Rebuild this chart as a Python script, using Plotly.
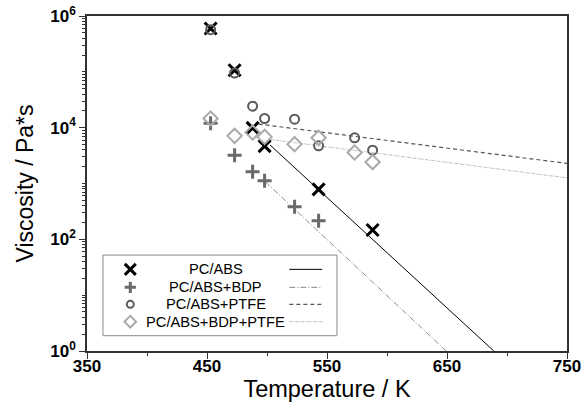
import plotly.graph_objects as go

# ---------------- data ----------------
T_pcabs = [453, 473, 488, 498, 543, 588]
V_pcabs = [5.96e5, 1.07e5, 9.9e3, 4.67e3, 783, 147]

T_bdp = [453, 473, 488, 498, 523, 543]
V_bdp = [1.2e4, 3.2e3, 1.62e3, 1.12e3, 383, 215]

T_ptfe = [453, 473, 488, 498, 523, 543, 573, 588]
V_ptfe = [5.7e5, 9.5e4, 2.43e4, 1.46e4, 1.42e4, 4.72e3, 6.58e3, 3.96e3]

T_bdpptfe = [453, 473, 488, 498, 523, 543, 573, 588]
V_bdpptfe = [1.46e4, 7.13e3, 8.2e3, 6.84e3, 5.07e3, 6.58e3, 3.6e3, 2.42e3]

# fitted lines (end points)
fitT_pcabs = [502.5, 689]
fitV_pcabs = [4.9e3, 1.0]
fitT_bdp = [498.6, 649.4]
fitV_bdp = [1.07e3, 1.0]
fitT_ptfe = [493, 750]
fitV_ptfe = [1.16e4, 2.29e3]
fitT_bdpptfe = [502.75, 750]
fitV_bdpptfe = [6.15e3, 1.26e3]

names = ["PC/ABS", "PC/ABS+BDP", "PC/ABS+PTFE", "PC/ABS+BDP+PTFE"]
x_ticks = [350, 450, 550, 650, 750]
y_ticks = [1, 1e2, 1e4, 1e6]
y_ticktext = ["10<sup>0</sup>", "10<sup>2</sup>", "10<sup>4</sup>", "10<sup>6</sup>"]

# ---------------- styles ----------------
FONT = "Arial, Liberation Sans, sans-serif"
styles = [
    dict(marker=dict(symbol="x-thin", size=12, color="black", line=dict(color="black", width=3)),
         line=dict(color="black", width=1, dash="solid")),
    dict(marker=dict(symbol="cross-thin", size=10, color="#6a6a6a", line=dict(color="#6a6a6a", width=3)),
         line=dict(color="#8a8a8a", width=1, dash="6px,2px,1px,2px")),
    dict(marker=dict(symbol="circle-open", size=9, color="#5a5a5a", line=dict(color="#5a5a5a", width=2)),
         line=dict(color="#555555", width=1.2, dash="4px,3px")),
    dict(marker=dict(symbol="diamond-open", size=11, color="#aaaaaa", line=dict(color="#aaaaaa", width=2)),
         line=dict(color="#bbbbbb", width=1, dash="3px,1px,1px,1px")),
]
series = [(T_pcabs, V_pcabs, fitT_pcabs, fitV_pcabs),
          (T_bdp, V_bdp, fitT_bdp, fitV_bdp),
          (T_ptfe, V_ptfe, fitT_ptfe, fitV_ptfe),
          (T_bdpptfe, V_bdpptfe, fitT_bdpptfe, fitV_bdpptfe)]

fig = go.Figure()
for (tx, vy, ft, fv), st, nm in zip(series, styles, names):
    fig.add_trace(go.Scatter(x=ft, y=fv, mode="lines", line=st["line"], showlegend=False,
                             hoverinfo="skip"))
for (tx, vy, ft, fv), st, nm in zip(series, styles, names):
    fig.add_trace(go.Scatter(x=tx, y=vy, mode="markers", marker=st["marker"], name=nm,
                             showlegend=False))

# ---------------- custom legend (overlay axes in [0,1]) ----------------
leg_rows = [0.2437, 0.1900, 0.1393, 0.0874]
leg_sizes = [11, 8, 7, 9]
for row, st, nm, ls in zip(leg_rows, styles, names, leg_sizes):
    mk = dict(st["marker"])
    mk["size"] = ls
    fig.add_trace(go.Scatter(x=[0.0902], y=[row], mode="markers", marker=mk,
                             xaxis="x2", yaxis="y2", showlegend=False, hoverinfo="skip"))
    fig.add_trace(go.Scatter(x=[0.4215, 0.490], y=[row, row], mode="lines", line=st["line"],
                             xaxis="x2", yaxis="y2", showlegend=False, hoverinfo="skip"))
    fig.add_annotation(x=0.268, y=row, xref="paper", yref="paper", text=nm, showarrow=False,
                       xanchor="center", yanchor="middle",
                       font=dict(family=FONT, size=14.7, color="black"))

fig.add_shape(type="rect", xref="paper", yref="paper", x0=0.0333, x1=0.5208, y0=0.0456, y1=0.2863,
              line=dict(color="#888888", width=1), fillcolor="white", layer="below")

fig.update_layout(
    width=581, height=409,
    margin=dict(l=87, r=14, t=16, b=58, autoexpand=False),
    paper_bgcolor="white", plot_bgcolor="white",
    font=dict(family=FONT, color="black"),
    xaxis=dict(range=[350, 750], tickvals=x_ticks, ticks="outside", ticklen=6, tickwidth=1.2,
               tickcolor="#333", showline=True, linecolor="#333", linewidth=1.5, mirror=True,
               showgrid=False, zeroline=False, automargin=False, ticklabeloverflow="allow",
               ticklabelstandoff=-7,
               tickfont=dict(family=FONT, size=17, weight="bold"),
               minor=dict(dtick=50, ticks="outside", ticklen=3, tickcolor="#333", showgrid=False),
               title=dict(text="Temperature / K", font=dict(family=FONT, size=23.5), standoff=3)),
    yaxis=dict(type="log", range=[0, 6], tickvals=y_ticks, ticktext=y_ticktext,
               ticks="outside", ticklen=6, tickwidth=1.2, tickcolor="#333",
               showline=True, linecolor="#333", linewidth=1.5, mirror=True,
               showgrid=False, zeroline=False, automargin=False, ticklabeloverflow="allow",
               tickfont=dict(family=FONT, size=17, weight="bold"),
               minor=dict(tickvals=[m * 10 ** k for k in range(6) for m in range(2, 10)] + [10, 1e3, 1e5],
                          ticks="outside", ticklen=3, tickcolor="#333", showgrid=False),
               title=dict(text="Viscosity / Pa*s", font=dict(family=FONT, size=23), standoff=10)),
    xaxis2=dict(overlaying="x", range=[0, 1], visible=False),
    yaxis2=dict(overlaying="y", range=[0, 1], visible=False),
)

fig.write_html("out.html", config={"displayModeBar": False},
               post_script="document.body.style.margin='0';")
